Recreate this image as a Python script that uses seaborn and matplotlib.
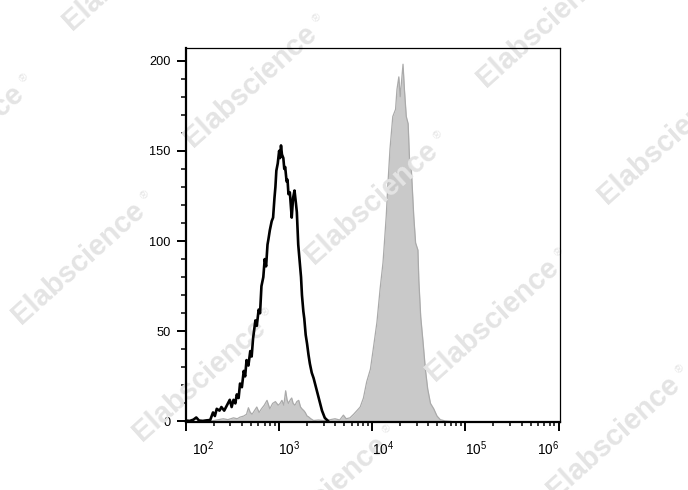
import numpy as np
import pandas as pd
import matplotlib
matplotlib.use("Agg")
import matplotlib.pyplot as plt
from matplotlib.ticker import FixedLocator, NullFormatter
import seaborn as sns

# ---------------- data ----------------
# unstained / control histogram (black outline); x in log10 units
black_log = [2.00, 2.04, 2.08, 2.11, 2.14, 2.18, 2.22, 2.26, 2.29, 2.31, 2.33, 2.36, 2.38, 2.41,
             2.44, 2.47, 2.49, 2.51, 2.53, 2.545, 2.565, 2.58, 2.60, 2.62, 2.635, 2.65, 2.67, 2.69,
             2.705, 2.72, 2.735, 2.745, 2.76, 2.78, 2.795, 2.81, 2.83, 2.845, 2.86, 2.875, 2.885,
             2.90, 2.92, 2.935, 2.95, 2.96, 2.97, 2.985, 3.00, 3.01, 3.02, 3.03, 3.045, 3.055,
             3.065, 3.08, 3.09, 3.10, 3.115, 3.125, 3.135, 3.15, 3.165, 3.18, 3.19, 3.205, 3.22,
             3.235, 3.245, 3.26, 3.27, 3.285, 3.30, 3.315, 3.33, 3.35, 3.37, 3.39, 3.405, 3.42,
             3.44, 3.46, 3.475, 3.49, 3.51, 3.53]
black_count = [0.5, 0.3, 1, 2.2, 0.5, 0.3, 0.6, 0.8, 5, 3, 7, 6, 8, 6,
               9, 12, 8, 12, 10, 15, 13, 21, 19, 28, 25, 34, 31, 39,
               36, 46, 52, 56, 53, 62, 60, 75, 80, 90, 86, 98, 101,
               106, 111, 113, 124, 130, 139, 143, 150, 146, 153, 148, 146, 140,
               141, 133, 134, 126, 127, 120, 113, 124, 128, 121, 116, 98, 89,
               80, 70, 61, 57, 48, 43, 37, 32, 27, 24, 20, 17, 14,
               10, 6, 4, 2, 1, 0]

# stained histogram (grey filled); x in log10 units
gray_log = [2.25, 2.30, 2.35, 2.40, 2.45, 2.51, 2.55, 2.58, 2.62, 2.65, 2.67, 2.69, 2.71, 2.735,
            2.76, 2.785, 2.81, 2.84, 2.87, 2.90, 2.93, 2.96, 2.99, 3.01, 3.03, 3.05, 3.07, 3.085,
            3.10, 3.12, 3.135, 3.15, 3.17, 3.19, 3.21, 3.23, 3.245, 3.265, 3.28, 3.30, 3.315,
            3.34, 3.37, 3.42, 3.48, 3.55, 3.60, 3.65, 3.69, 3.72, 3.76, 3.80, 3.835, 3.87, 3.905,
            3.94, 3.98, 4.01, 4.05, 4.085, 4.115, 4.13, 4.15, 4.165, 4.19, 4.205, 4.22, 4.25,
            4.265, 4.285, 4.30, 4.315, 4.33, 4.345, 4.365, 4.385, 4.40, 4.42, 4.445, 4.465, 4.49,
            4.50, 4.52, 4.545, 4.57, 4.595, 4.625, 4.66, 4.695, 4.73, 4.78, 4.85]
gray_count = [0, 0.5, 1, 1.5, 1, 2, 1.5, 2.4, 3, 4, 7.6, 5, 4, 6,
              8, 5, 7, 9, 11.7, 7, 10, 11, 9, 10, 11.7, 9, 17, 12,
              10, 12, 13, 10, 9, 11, 11.7, 8, 7, 6, 5, 3, 2.6,
              1.5, 0.5, 0.8, 0.5, 1, 1.5, 0.8, 3.5, 1.5, 2, 4, 6, 8, 13,
              22, 29, 40, 55, 74, 88, 99, 114, 129, 151, 160, 169, 173,
              184, 191, 180, 189, 198, 184, 169, 165, 145, 139, 114, 99, 95,
              78, 58, 44, 29, 18, 10, 7, 3, 1, 0.3, 0]

y_ticks = [0, 50, 100, 150, 200]
x_decades = [2, 3, 4, 5, 6]
watermark_text = "Elabscience"
watermark_mark = "\u00ae"

# ---------------- style ----------------
sns.set_style("ticks")
plt.rcParams["font.family"] = ["Liberation Sans", "DejaVu Sans"]
plt.rcParams["mathtext.fontset"] = "custom"
plt.rcParams["mathtext.rm"] = "Liberation Sans"
plt.rcParams["mathtext.it"] = "Liberation Sans:italic"
plt.rcParams["mathtext.bf"] = "Liberation Sans:bold"

W, H = 688, 490
fig = plt.figure(figsize=(W / 100, H / 100), dpi=100)
fig.patch.set_facecolor("white")
L, R, T, B = 186, 559.5, 48, 422
ax = fig.add_axes([L / W, 1 - B / H, (R - L) / W, (B - T) / H])
ax.set_facecolor("white")
ax.set_xscale("log")

df_b = pd.DataFrame({"fl": 10 ** np.array(black_log), "count": black_count})
df_g = pd.DataFrame({"fl": 10 ** np.array(gray_log), "count": gray_count})

ax.fill_between(df_g["fl"], df_g["count"], 0, color="#c9c9c9", lw=0, zorder=1)
sns.lineplot(data=df_g, x="fl", y="count", ax=ax, color="#aaaaaa", lw=0.9,
             estimator=None, sort=False, zorder=1.2)
sns.lineplot(data=df_b, x="fl", y="count", ax=ax, color="black", lw=1.9,
             estimator=None, sort=False, zorder=3)

ax.set_xlim(1e2, 10 ** 6.01)
ax.set_ylim(-0.3, 207)
ax.set_xlabel("")
ax.set_ylabel("")

# y ticks
ax.set_yticks(y_ticks)
ax.set_yticklabels([str(v) for v in y_ticks])
ax.yaxis.set_minor_locator(FixedLocator(list(range(0, 201, 10))))
# x ticks
ax.xaxis.set_major_locator(FixedLocator([10.0 ** k for k in x_decades]))
ax.xaxis.set_minor_locator(FixedLocator([m * 10.0 ** k for k in x_decades[:-1] for m in range(2, 10)]))
ax.xaxis.set_major_formatter(NullFormatter())
ax.xaxis.set_minor_formatter(NullFormatter())

ax.tick_params(axis="y", which="major", direction="out", length=6.7, width=1.4,
               pad=4.3, labelsize=9.2, color="black", labelcolor="black")
ax.tick_params(axis="y", which="minor", direction="out", length=3.6, width=1.1, color="black")
ax.tick_params(axis="x", which="major", direction="out", length=6.5, width=1.4, color="black")
ax.tick_params(axis="x", which="minor", direction="out", length=3.2, width=1.1, color="black")

for side in ["left", "bottom"]:
    ax.spines[side].set_linewidth(1.6)
    ax.spines[side].set_color("black")
for side in ["top", "right"]:
    ax.spines[side].set_linewidth(0.9)
    ax.spines[side].set_color("black")

# decade labels (drawn a little right of the tick, as in the reference)
label_dx_px = [17, 10, 11, 11, -10]
for k, dx in zip(x_decades, label_dx_px):
    ax.annotate(rf"$\mathregular{{10^{{{k}}}}}$", xy=(10.0 ** k, 0),
                xycoords=("data", "axes fraction"), xytext=(dx * 0.72, -12.5),
                textcoords="offset points", ha="center", va="top", fontsize=9.8,
                color="black", annotation_clip=False)

# watermarks
wm_centers = [(250, 86), (129, -31), (371, 203), (492, 320), (613, 437),
              (78, 263), (-43, 146), (199, 380), (320, 497), (543, 26), (664, 143)]
theta = np.deg2rad(42)
ux, uy = np.cos(theta), np.sin(theta)
px_, py_ = -np.sin(theta), np.cos(theta)
for cx, cy in wm_centers:
    X, Y = cx, H - cy
    ax.text(X / W, Y / H, watermark_text, transform=fig.transFigure, rotation=42,
            rotation_mode="anchor", ha="center", va="center", fontsize=21,
            fontweight="bold", color="#e4e4e4", zorder=1.5, clip_on=False)
    rX = X + 95 * ux + 6 * px_
    rY = Y + 95 * uy + 6 * py_
    ax.text(rX / W, rY / H, watermark_mark, transform=fig.transFigure, rotation=42,
            rotation_mode="anchor", ha="center", va="center", fontsize=8,
            color="#e4e4e4", zorder=1.5, clip_on=False)

fig.savefig("out.png", dpi=100, facecolor="white")
